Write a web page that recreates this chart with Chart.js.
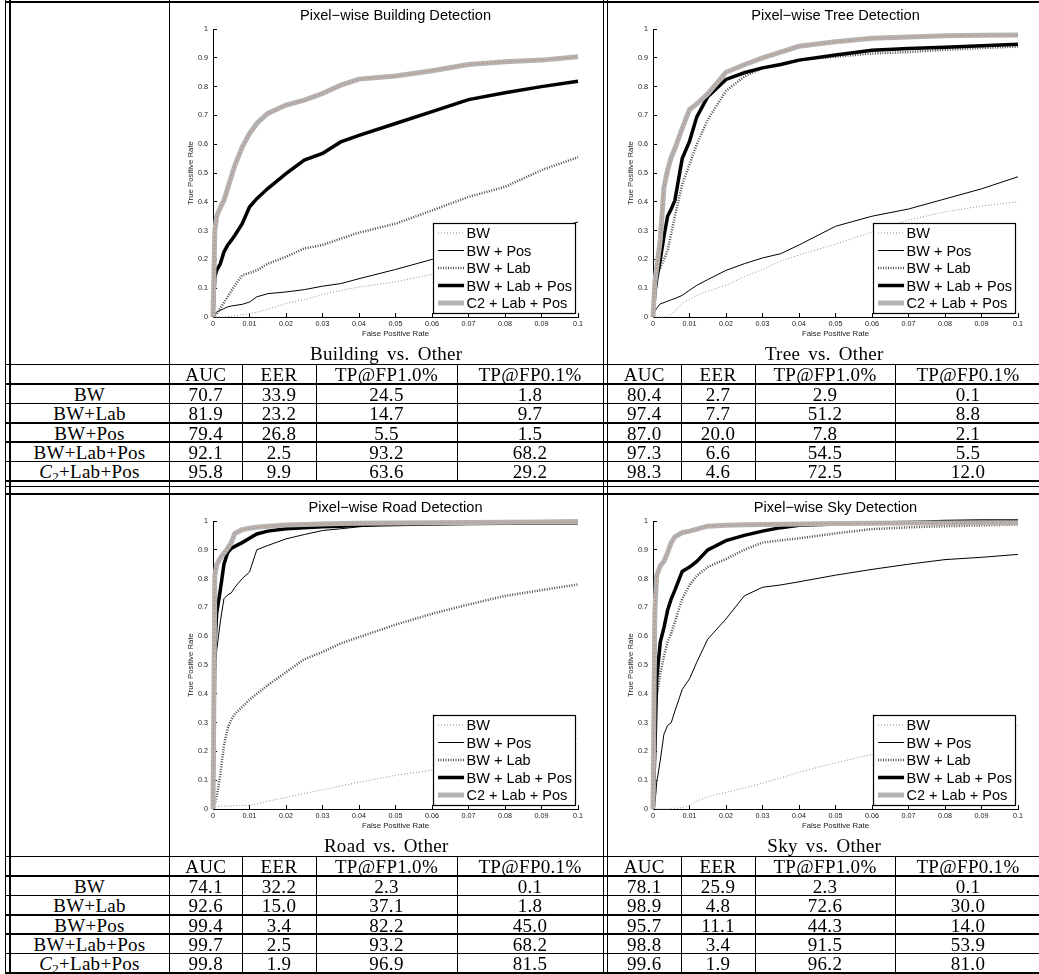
<!DOCTYPE html>
<html>
<head>
<meta charset="utf-8">
<script src="https://cdn.jsdelivr.net/npm/chart.js@4.4.0/dist/chart.umd.min.js"></script>
<style>
  html, body { margin: 0; padding: 0; background: #fff; overflow: hidden; }
  #page { position: relative; width: 1039px; height: 974px; overflow: hidden; background: #fff; }
  .ln { position: absolute; background: #000; }
  .cell { position: absolute; text-align: center; font-family: "Liberation Serif", "DejaVu Serif", serif;
          font-size: 19px; letter-spacing: 0.3px; color: #000; white-space: nowrap; line-height: 19px; height: 19px; }
  .cell.cap { word-spacing: 3px; }
  .cell sub { font-size: 13px; line-height: 0; vertical-align: -3px; }
  canvas { position: absolute; }
</style>
</head>
<body>
<div id="page"></div>
<script>
// false positive rate grid shared by every curve
const fpr = [0, 0.0005, 0.001, 0.002, 0.003, 0.004, 0.005, 0.006, 0.008, 0.01, 0.012, 0.015,
             0.02, 0.025, 0.03, 0.035, 0.04, 0.05, 0.06, 0.07, 0.08, 0.09, 0.1];

const xTicks = [0, 0.01, 0.02, 0.03, 0.04, 0.05, 0.06, 0.07, 0.08, 0.09, 0.1];
const xTickLabels = ['0', '0.01', '0.02', '0.03', '0.04', '0.05', '0.06', '0.07', '0.08', '0.09', '0.1'];
const yTicks = [0, 0.1, 0.2, 0.3, 0.4, 0.5, 0.6, 0.7, 0.8, 0.9, 1];
const yTickLabels = ['0', '0.1', '0.2', '0.3', '0.4', '0.5', '0.6', '0.7', '0.8', '0.9', '1'];

const seriesNames = ['BW', 'BW + Pos', 'BW + Lab', 'BW + Lab + Pos', 'C2 + Lab + Pos'];

// true positive rates, building
const buildingBW     = [0, 0, 0, 0, 0, 0.001, 0.002, 0.004, 0.008, 0.012, 0.016, 0.027, 0.047, 0.06, 0.078, 0.092, 0.104, 0.122, 0.148, 0.17, 0.195, 0.218, 0.24];
const buildingPos    = [0, 0.012, 0.017, 0.023, 0.029, 0.035, 0.038, 0.04, 0.044, 0.052, 0.07, 0.081, 0.087, 0.095, 0.107, 0.116, 0.133, 0.165, 0.2, 0.225, 0.255, 0.29, 0.33];
const buildingLab    = [0, 0.005, 0.01, 0.03, 0.05, 0.07, 0.09, 0.11, 0.145, 0.153, 0.162, 0.185, 0.209, 0.238, 0.25, 0.272, 0.293, 0.324, 0.37, 0.417, 0.452, 0.51, 0.555];
const buildingLabPos = [0, 0.14, 0.162, 0.185, 0.226, 0.249, 0.266, 0.284, 0.324, 0.382, 0.411, 0.446, 0.498, 0.545, 0.568, 0.608, 0.631, 0.672, 0.713, 0.755, 0.779, 0.8, 0.819];
const buildingC2     = [0, 0.3, 0.35, 0.38, 0.405, 0.446, 0.487, 0.527, 0.59, 0.637, 0.672, 0.707, 0.736, 0.753, 0.776, 0.805, 0.826, 0.837, 0.855, 0.877, 0.886, 0.892, 0.904];

// tree
const treeBW     = [0, 0, 0, 0, 0, 0.002, 0.008, 0.02, 0.048, 0.062, 0.075, 0.09, 0.11, 0.14, 0.165, 0.195, 0.215, 0.253, 0.295, 0.337, 0.365, 0.385, 0.4];
const treePos    = [0, 0.02, 0.03, 0.046, 0.05, 0.055, 0.06, 0.064, 0.075, 0.093, 0.11, 0.13, 0.162, 0.185, 0.205, 0.22, 0.25, 0.315, 0.35, 0.375, 0.41, 0.445, 0.487];
const treeLab    = [0, 0.1, 0.15, 0.17, 0.2, 0.23, 0.29, 0.35, 0.46, 0.53, 0.6, 0.685, 0.785, 0.835, 0.865, 0.878, 0.892, 0.904, 0.915, 0.92, 0.928, 0.934, 0.939];
const treeLabPos = [0, 0.08, 0.13, 0.2, 0.28, 0.35, 0.375, 0.405, 0.55, 0.61, 0.695, 0.765, 0.825, 0.848, 0.865, 0.877, 0.892, 0.91, 0.926, 0.932, 0.937, 0.942, 0.947];
const treeC2     = [0, 0.12, 0.17, 0.27, 0.45, 0.51, 0.555, 0.585, 0.655, 0.72, 0.74, 0.775, 0.85, 0.876, 0.9, 0.92, 0.94, 0.956, 0.968, 0.972, 0.977, 0.978, 0.979];

// road
const roadBW     = [0, 0.005, 0.008, 0.01, 0.01, 0.011, 0.011, 0.012, 0.012, 0.013, 0.018, 0.027, 0.04, 0.054, 0.067, 0.08, 0.093, 0.117, 0.135, 0.16, 0.185, 0.213, 0.244];
const roadPos    = [0, 0.48, 0.55, 0.65, 0.73, 0.743, 0.75, 0.77, 0.8, 0.823, 0.9, 0.915, 0.938, 0.953, 0.967, 0.973, 0.98, 0.988, 0.99, 0.991, 0.991, 0.992, 0.992];
const roadLab    = [0, 0.02, 0.04, 0.12, 0.22, 0.28, 0.31, 0.33, 0.355, 0.38, 0.4, 0.43, 0.475, 0.52, 0.545, 0.575, 0.597, 0.64, 0.678, 0.71, 0.74, 0.76, 0.78];
const roadLabPos = [0, 0.56, 0.68, 0.76, 0.85, 0.89, 0.905, 0.912, 0.925, 0.94, 0.955, 0.965, 0.973, 0.977, 0.98, 0.982, 0.985, 0.988, 0.99, 0.991, 0.992, 0.993, 0.994];
const roadC2     = [0, 0.81, 0.847, 0.872, 0.888, 0.905, 0.925, 0.957, 0.97, 0.975, 0.978, 0.982, 0.986, 0.988, 0.99, 0.991, 0.992, 0.993, 0.994, 0.995, 0.996, 0.997, 0.998];

// sky
const skyBW     = [0, 0, 0, 0, 0, 0, 0.001, 0.002, 0.005, 0.012, 0.028, 0.042, 0.058, 0.073, 0.09, 0.108, 0.128, 0.16, 0.19, 0.215, 0.24, 0.265, 0.29];
const skyPos    = [0, 0.01, 0.09, 0.17, 0.26, 0.29, 0.3, 0.34, 0.415, 0.452, 0.51, 0.59, 0.66, 0.74, 0.77, 0.778, 0.789, 0.812, 0.832, 0.85, 0.866, 0.874, 0.884];
const skyLab    = [0, 0.3, 0.39, 0.47, 0.53, 0.58, 0.61, 0.65, 0.73, 0.777, 0.81, 0.84, 0.868, 0.9, 0.925, 0.933, 0.94, 0.957, 0.972, 0.978, 0.982, 0.985, 0.988];
const skyLabPos = [0, 0.2, 0.45, 0.58, 0.63, 0.69, 0.73, 0.76, 0.825, 0.84, 0.86, 0.9, 0.932, 0.95, 0.965, 0.977, 0.985, 0.99, 0.993, 0.995, 0.998, 1, 1];
const skyC2     = [0, 0.68, 0.81, 0.845, 0.86, 0.89, 0.925, 0.945, 0.96, 0.965, 0.972, 0.982, 0.985, 0.987, 0.988, 0.989, 0.99, 0.991, 0.992, 0.993, 0.993, 0.994, 0.994];

// tables
const rowLabels = ['BW', 'BW+Lab', 'BW+Pos', 'BW+Lab+Pos', '<i>C</i><sub>2</sub>+Lab+Pos'];
const metricNames = ['AUC', 'EER', 'TP@FP1.0%', 'TP@FP0.1%'];
const buildingTable = [['70.7', '33.9', '24.5', '1.8'], ['81.9', '23.2', '14.7', '9.7'], ['79.4', '26.8', '5.5', '1.5'], ['92.1', '2.5', '93.2', '68.2'], ['95.8', '9.9', '63.6', '29.2']];
const treeTable     = [['80.4', '2.7', '2.9', '0.1'], ['97.4', '7.7', '51.2', '8.8'], ['87.0', '20.0', '7.8', '2.1'], ['97.3', '6.6', '54.5', '5.5'], ['98.3', '4.6', '72.5', '12.0']];
const roadTable     = [['74.1', '32.2', '2.3', '0.1'], ['92.6', '15.0', '37.1', '1.8'], ['99.4', '3.4', '82.2', '45.0'], ['99.7', '2.5', '93.2', '68.2'], ['99.8', '1.9', '96.9', '81.5']];
const skyTable      = [['78.1', '25.9', '2.3', '0.1'], ['98.9', '4.8', '72.6', '30.0'], ['95.7', '11.1', '44.3', '14.0'], ['98.8', '3.4', '91.5', '53.9'], ['99.6', '1.9', '96.2', '81.0']];

const page = document.getElementById('page');
const sansFont = '"Liberation Sans", Arial, Helvetica, sans-serif';
Chart.defaults.font.family = sansFont;

const lineStyles = [
  { color: '#8f8f8f', width: 1, dash: [1, 2] },      // BW
  { color: '#000000', width: 1, dash: [] },          // BW + Pos
  { color: '#4d4d4d', width: 2.5, dash: [1, 1.5] },  // BW + Lab
  { color: '#000000', width: 3.5, dash: [] },        // BW + Lab + Pos
  { color: '#b3b3b3', width: 5, dash: [] }           // C2 + Lab + Pos
];

// legend box drawn inside the lower right of the plot
const boxLegend = {
  id: 'boxLegend',
  afterDatasetsDraw(chart) {
    const { ctx, chartArea } = chart;
    const w = 142, h = 90;
    const x0 = Math.round(chartArea.right - 3 - w), y0 = Math.round(chartArea.bottom - 4 - h);
    ctx.save();
    ctx.fillStyle = '#fff';
    ctx.fillRect(x0, y0, w, h);
    ctx.strokeStyle = '#000';
    ctx.lineWidth = 1.2;
    ctx.strokeRect(x0 + 0.5, y0 + 0.5, w, h);
    ctx.font = '14.5px ' + sansFont;
    ctx.textBaseline = 'middle';
    ctx.textAlign = 'left';
    let row = 0;
    chart.data.datasets.forEach(ds => {
      if (ds.noLegend) return;
      const y = y0 + 10 + row * 17.5;
      ctx.save();
      ctx.strokeStyle = ds.borderColor;
      ctx.lineWidth = ds.borderWidth;
      ctx.setLineDash(ds.borderDash);
      ctx.beginPath();
      ctx.moveTo(x0 + 5, y);
      ctx.lineTo(x0 + 31, y);
      ctx.stroke();
      ctx.restore();
      ctx.fillStyle = '#000';
      ctx.fillText(ds.label, x0 + 33.5, y + 1);
      row++;
    });
    ctx.restore();
  }
};

function makeChart(left, top, title, series) {
  const canvas = document.createElement('canvas');
  canvas.width = 430;
  canvas.height = 342;
  canvas.style.left = left + 'px';
  canvas.style.top = top + 'px';
  page.appendChild(canvas);

  const datasets = series.map((ys, k) => ({
    label: seriesNames[k],
    data: fpr.map((x, i) => ({ x: x, y: ys[i] })),
    borderColor: lineStyles[k].color,
    borderWidth: lineStyles[k].width,
    borderDash: lineStyles[k].dash,
    pointRadius: 0,
    tension: 0,
    fill: false,
    clip: false,
    order: 10 - k
  }));
  // thin orange dots running along the grey curve
  datasets.push({
    label: '',
    noLegend: true,
    data: fpr.map((x, i) => ({ x: x, y: series[4][i] })),
    borderColor: '#e0703c',
    borderWidth: 1,
    borderDash: [1, 3],
    pointRadius: 0,
    tension: 0,
    fill: false,
    clip: false,
    order: 1
  });

  const tickFont = { family: sansFont, size: 7.2 };
  const axisFont = { family: sansFont, size: 7.8 };

  return new Chart(canvas, {
    type: 'line',
    data: { datasets: datasets },
    options: {
      responsive: false,
      animation: false,
      devicePixelRatio: 1,
      layout: { padding: { left: 0, right: 24, top: 0, bottom: 0 } },
      plugins: {
        legend: { display: false },
        tooltip: { enabled: false },
        title: {
          display: true,
          text: title,
          fullSize: false,
          color: '#000',
          font: { family: sansFont, size: 14.6, weight: 'normal' },
          padding: { top: 3.6, bottom: 3.9 }
        }
      },
      scales: {
        x: {
          type: 'linear',
          min: 0,
          max: 0.1,
          afterBuildTicks: s => { s.ticks = xTicks.map(v => ({ value: v })); },
          afterFit: s => { s.height = 29; },
          ticks: { callback: (v, i) => xTickLabels[i], font: tickFont, color: '#222', padding: 7, maxRotation: 0, autoSkip: false },
          grid: { drawOnChartArea: false, drawTicks: true, tickLength: -4, tickColor: '#000', tickWidth: 1 },
          border: { display: true, color: '#000', width: 1 },
          title: { display: true, text: 'False Positive Rate', color: '#222', font: axisFont, padding: { top: 0, bottom: 7.3 } }
        },
        y: {
          type: 'linear',
          min: 0,
          max: 1,
          afterBuildTicks: s => { s.ticks = yTicks.map(v => ({ value: v })); },
          afterFit: s => { s.width = 41; },
          ticks: { callback: (v, i) => yTickLabels[i], font: tickFont, color: '#222', padding: 9, autoSkip: false },
          grid: { drawOnChartArea: false, drawTicks: true, tickLength: -4, tickColor: '#000', tickWidth: 1 },
          border: { display: true, color: '#000', width: 1 },
          title: { display: true, text: 'True Positive Rate', color: '#222', font: axisFont, padding: { top: 14.3, bottom: 0 } }
        }
      }
    },
    plugins: [boxLegend]
  });
}

function addLine(x, y, w, h) {
  const d = document.createElement('div');
  d.className = 'ln';
  d.style.left = x + 'px';
  d.style.top = y + 'px';
  d.style.width = w + 'px';
  d.style.height = h + 'px';
  page.appendChild(d);
}

function addCell(html, x0, x1, yc, extra) {
  const d = document.createElement('div');
  d.className = extra ? 'cell ' + extra : 'cell';
  d.innerHTML = html;
  d.style.left = x0 + 'px';
  d.style.width = (x1 - x0) + 'px';
  d.style.top = (yc - 9.5) + 'px';
  page.appendChild(d);
}

const rowH = 19.4;
const leftCols = [169.5, 242, 316, 457, 603];
const rightCols = [607.5, 681, 755, 895, 1041];

function addTable(oy, caption, cols, values, firstHalf) {
  addCell(caption, cols[0], cols[4], 353 + oy, 'cap');
  const top = 364.5 + oy;
  metricNames.forEach((m, c) => addCell(m, cols[c], cols[c + 1], top + rowH / 2 + 0.6));
  values.forEach((row, r) => {
    const yc = top + (r + 1) * rowH + rowH / 2 + 0.6;
    if (firstHalf) addCell(rowLabels[r], 9.5, 169.5, yc);
    row.forEach((v, c) => addCell(v, cols[c], cols[c + 1], yc));
  });
  for (let c = 1; c < 4; c++) addLine(cols[c] - 0.5, top, 1.4, rowH * 6);
}

const sections = [
  { oy: 0, charts: [['Pixel\u2212wise Building Detection', [buildingBW, buildingPos, buildingLab, buildingLabPos, buildingC2], 'Building vs. Other', buildingTable],
                    ['Pixel\u2212wise Tree Detection', [treeBW, treePos, treeLab, treeLabPos, treeC2], 'Tree vs. Other', treeTable]] },
  { oy: 492, charts: [['Pixel\u2212wise Road Detection', [roadBW, roadPos, roadLab, roadLabPos, roadC2], 'Road vs. Other', roadTable],
                      ['Pixel\u2212wise Sky Detection', [skyBW, skyPos, skyLab, skyLabPos, skyC2], 'Sky vs. Other', skyTable]] }
];

sections.forEach(sec => {
  const oy = sec.oy;
  addLine(4.5, 1 + oy, 1035, 1.5);
  for (let r = 0; r <= 6; r++) addLine(4.5, 364.5 + oy + r * rowH - 0.7, 1035, 1.5);
  makeChart(172, 4 + oy, sec.charts[0][0], sec.charts[0][1]);
  makeChart(612, 4 + oy, sec.charts[1][0], sec.charts[1][1]);
  addTable(oy, sec.charts[0][2], leftCols, sec.charts[0][3], true);
  addTable(oy, sec.charts[1][2], rightCols, sec.charts[1][3], false);
});
addLine(4.5, 485.5, 1035, 1.5);

// vertical rules
[4.5, 9, 168.8, 602.8, 606.8].forEach(x => addLine(x, 0, 1.5, 974));
</script>
</body>
</html>
